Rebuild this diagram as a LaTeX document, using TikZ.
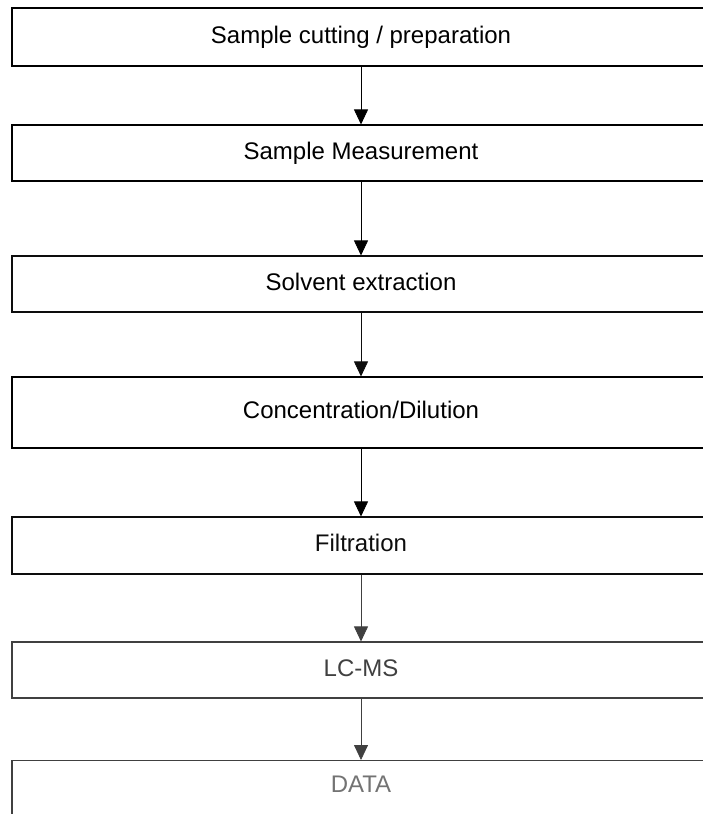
\documentclass[tikz,border=0pt]{standalone}
\usepackage{fontspec}
\setmainfont{Liberation Sans}
\usetikzlibrary{arrows.meta}
\definecolor{inkdark}{gray}{0.05}
\definecolor{inkmid}{gray}{0.25}
\definecolor{inklight}{gray}{0.45}

\tikzset{
  stage/.style={draw, line width=1.1pt, minimum width=698pt, inner sep=0pt,
    text height=17pt, text depth=5pt, font=\fontsize{24}{28}\selectfont},
  flow/.style={-{Triangle[width=14pt,length=15pt]}, line width=0.8pt},
}

\begin{document}
\begin{tikzpicture}[x=1pt,y=1pt]
				\useasboundingbox (0,0) rectangle (703,-814);
				\clip (0,0) rectangle (703,-814);

				\node[stage, minimum height=58pt, line width=1.7pt] (prep) at (361,-37)
					{Sample cutting / preparation};
				\node[stage, minimum height=56pt] (measure) at (361,-153)
					{Sample Measurement};
				\node[stage, minimum height=56pt, draw=inkdark] (extract) at (361,-284)
					{Solvent extraction};
				\node[stage, minimum height=71pt] (conc) at (361,-412.5)
					{Concentration/Dilution};
				\node[stage, minimum height=57pt, draw=inkdark, text=inkdark] (filt) at (361,-545.5)
					{Filtration};
				\node[stage, minimum height=56pt, draw=inkmid, text=inkmid] (lcms) at (361,-670)
					{LC-MS};
				\node[stage, anchor=north, inner ysep=15pt, text depth=40pt,
					draw=inkmid, text=inklight] (data) at (361,-760)
					{DATA};

				\draw[flow] (prep) -- (measure);
				\draw[flow] (measure) -- (extract);
				\draw[flow, inkdark] (extract) -- (conc);
				\draw[flow] (conc) -- (filt);
				\draw[flow, inkmid] (filt) -- (lcms);
				\draw[flow, inkmid] (lcms) -- (data);
			\end{tikzpicture}
\end{document}
